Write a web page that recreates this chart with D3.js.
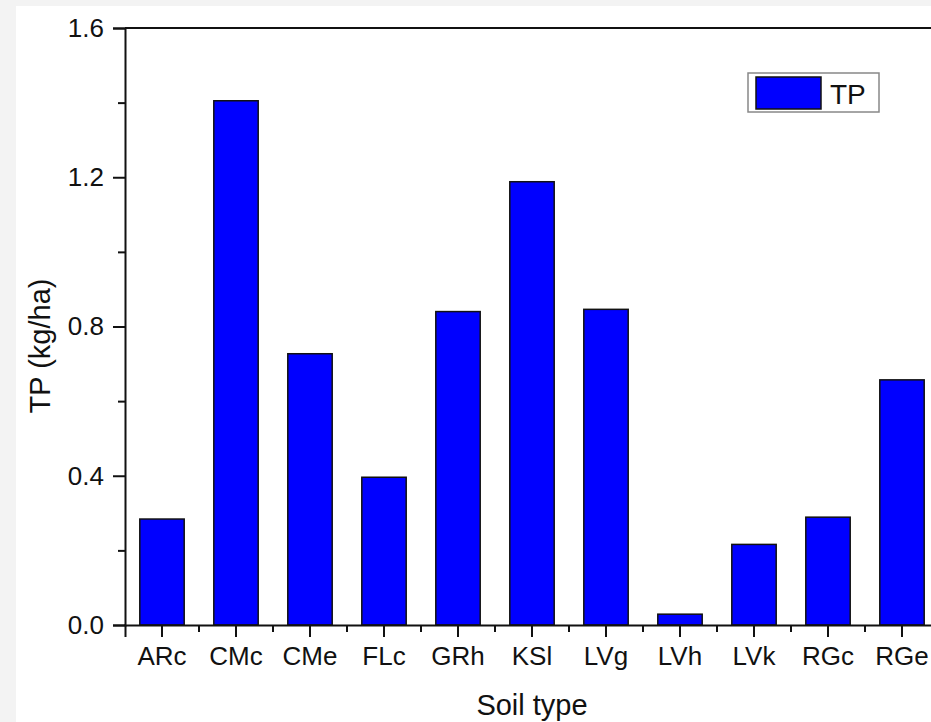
<!DOCTYPE html>
<html><head><meta charset="utf-8">
<script src="https://cdn.jsdelivr.net/npm/d3@7/dist/d3.min.js"></script>
<style>
html,body{margin:0;padding:0;background:#f3f3f3;overflow:hidden;}
svg{display:block;}
text{font-family:"Liberation Sans",Arial,sans-serif;fill:#111;}
</style></head>
<body>
<script>
const categories = ["ARc","CMc","CMe","FLc","GRh","KSl","LVg","LVh","LVk","RGc","RGe"];
const tpValues = [0.284,1.405,0.727,0.396,0.840,1.188,0.846,0.029,0.216,0.289,0.657];
const yMajorTicks = [0.0,0.4,0.8,1.2,1.6];
const yMinorTicks = [0.2,0.6,1.0,1.4];
const seriesName = "TP";
const xTitle = "Soil type";
const yTitle = "TP (kg/ha)";

(function(){
const W = 931, H = 722;
const svg = d3.select("body").append("svg").attr("width", W).attr("height", H);
svg.append("rect").attr("x",16).attr("y",6).attr("width",W-16).attr("height",H-6).attr("fill","#fff");

const mLeft = 125, mTop = 28, mBottom = 625, mRight = 125 + 11*74;
const x = d3.scaleBand().domain(categories).range([mLeft, mRight]).paddingInner(0.4).paddingOuter(0.2);
const y = d3.scaleLinear().domain([0,1.6]).range([mBottom, mTop]);

// bars
svg.append("g").selectAll("rect").data(categories).join("rect")
  .attr("x", d => x(d))
  .attr("y", (d,i) => y(tpValues[i]))
  .attr("width", x.bandwidth())
  .attr("height", (d,i) => y(0) - y(tpValues[i]))
  .attr("fill", "#0000ff").attr("stroke", "#111").attr("stroke-width", 1.5);

// top frame line
svg.append("line").attr("x1", mLeft).attr("x2", mRight).attr("y1", mTop).attr("y2", mTop)
  .attr("stroke","#111").attr("stroke-width",2);

const font = "Liberation Sans, Arial, sans-serif";
// y axis
const yAxis = d3.axisLeft(y).tickValues(yMajorTicks).tickFormat(d3.format(".1f")).tickSize(12).tickPadding(9);
const gy = svg.append("g").attr("transform", `translate(${mLeft},0)`).call(yAxis);
gy.select(".domain").attr("stroke","#111").attr("stroke-width",2);
gy.selectAll(".tick line").attr("stroke","#111").attr("stroke-width",2);
gy.selectAll(".tick text").attr("font-size",26).style("fill","#111").attr("font-family",font);
const gyMinor = svg.append("g").attr("transform", `translate(${mLeft},0)`)
  .call(d3.axisLeft(y).tickValues(yMinorTicks).tickSize(7).tickFormat(""));
gyMinor.select(".domain").remove();
gyMinor.selectAll(".tick line").attr("stroke","#111").attr("stroke-width",2);

// x axis
const xAxis = d3.axisBottom(x).tickSize(12).tickPadding(10);
const gx = svg.append("g").attr("transform", `translate(0,${mBottom})`).call(xAxis);
gx.select(".domain").attr("stroke","#111").attr("stroke-width",2);
gx.selectAll(".tick line").attr("stroke","#111").attr("stroke-width",2);
gx.selectAll(".tick text").attr("font-size",26).style("fill","#111").attr("font-family",font);
// minor x ticks between categories
const step = x.step();
const minorX = categories.map(c => x(c) + x.bandwidth()/2 + step/2);
svg.append("g").selectAll("line").data(minorX).join("line")
  .attr("x1", d=>d).attr("x2", d=>d).attr("y1", mBottom).attr("y2", mBottom+7)
  .attr("stroke","#111").attr("stroke-width",2);

// axis titles
svg.append("text").attr("x", (mLeft+mRight)/2).attr("y", 715).attr("text-anchor","middle")
  .attr("font-size",29).text(xTitle);
svg.append("text").attr("transform","translate(50,346) rotate(-90)").attr("text-anchor","middle")
  .attr("font-size",29).text(yTitle);

// legend
const lg = svg.append("g");
lg.append("rect").attr("x",748).attr("y",73).attr("width",131).attr("height",39)
  .attr("fill","#fff").attr("stroke","#888").attr("stroke-width",1.5);
lg.append("rect").attr("x",756).attr("y",77).attr("width",65).attr("height",32)
  .attr("fill","#0000ff").attr("stroke","#111").attr("stroke-width",1.5);
lg.append("text").attr("x",830).attr("y",104).attr("font-size",28).text(seriesName);
})();
</script>
</body></html>
